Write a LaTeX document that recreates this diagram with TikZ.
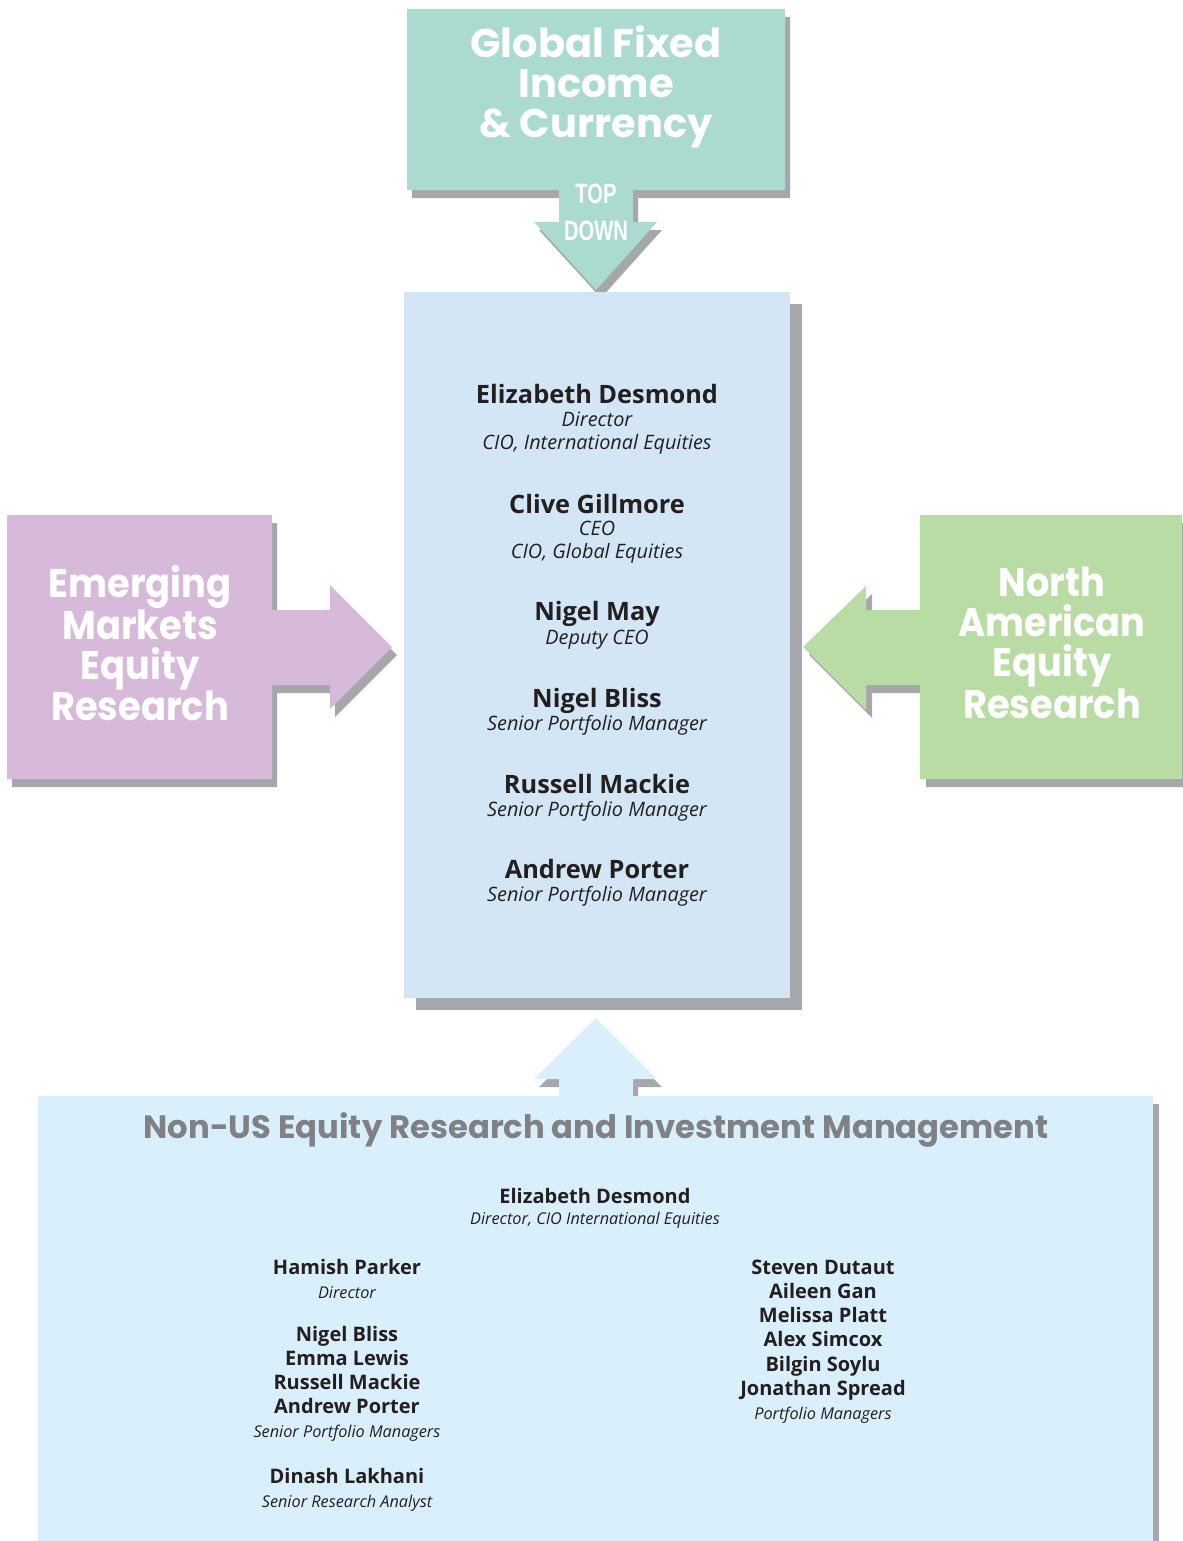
\documentclass[tikz,border=0pt]{standalone}
\usepackage{fontspec}
\setmainfont{Open Sans}
\newfontfamily\geofont{Poppins}
\newfontfamily\geonarrow[FakeStretch=0.92]{Poppins}
\newfontfamily\narrowfont[FakeStretch=0.72]{Liberation Sans}
\definecolor{cteal}{HTML}{AADAD0}
\definecolor{cpurple}{HTML}{D7BAD9}
\definecolor{cgreen}{HTML}{B9DCA4}
\definecolor{ccenter}{HTML}{D3E6F5}
\definecolor{cbottom}{HTML}{DAEFFC}
\definecolor{cshadow}{HTML}{A6A7AB}
\definecolor{ctitle}{HTML}{808184}
\definecolor{ctext}{HTML}{231F20}
\newcommand\myTopShape{(407,9) -- (785,9) -- (785,190) -- (633,190) -- (633,222) -- (657,222) -- (596,290) -- (534,222) -- (559,222) -- (559,190) -- (407,190) -- cycle}
\newcommand\myLeftShape{(7,515) -- (272,515) -- (272,610) -- (330,610) -- (330,585) -- (392,647) -- (330,709) -- (330,685) -- (272,685) -- (272,779) -- (7,779) -- cycle}
\newcommand\myRightShape{(1182,515) -- (920,515) -- (920,610) -- (866,610) -- (866,586) -- (803,647) -- (866,710) -- (866,685) -- (920,685) -- (920,779) -- (1182,779) -- cycle}
\newcommand\myUpShape{(596,1018) -- (657,1079) -- (633,1079) -- (633,1100) -- (559,1100) -- (559,1079) -- (534,1079) -- cycle}
\begin{document}
\begin{tikzpicture}[x=0.75pt,y=-0.75pt,
  bigtitle/.style={font=\geofont\bfseries\fontsize{30}{30}\selectfont, text=white, align=center, inner sep=0pt},
  sidetitle/.style={font=\geonarrow\bfseries\fontsize{30}{30}\selectfont, text=white, align=center, inner sep=0pt},
  pname/.style={font=\bfseries\fontsize{19}{20}\selectfont, text=ctext, inner sep=0pt, anchor=base},
  prole/.style={font=\itshape\fontsize{14.9}{16}\selectfont, text=ctext, inner sep=0pt, anchor=base},
  bname/.style={font=\bfseries\fontsize{15}{16}\selectfont, text=ctext, inner sep=0pt, anchor=base},
  brole/.style={font=\itshape\fontsize{12.2}{13}\selectfont, text=ctext, inner sep=0pt, anchor=base},
  topdown/.style={font=\narrowfont\bfseries\fontsize{21}{21}\selectfont, text=white, inner sep=0pt, anchor=base}]
\useasboundingbox (0,0) rectangle (1182,1541);
% shadows
\fill[cshadow, shift={(5,8)}] \myTopShape;
\fill[cshadow, shift={(5,8)}] \myLeftShape;
\fill[cshadow, shift={(6,8)}] \myRightShape;
\fill[cshadow] (416,304) rectangle (802,1010);
\fill[cshadow, shift={(5,8)}] \myUpShape;
\fill[cshadow] (44,1104) rectangle (1159,1541);
% shapes
\fill[cteal] \myTopShape;
\fill[cpurple] \myLeftShape;
\fill[cgreen] \myRightShape;
\fill[ccenter] (404,292) rectangle (790,998);
\fill[cbottom] \myUpShape;
\fill[cbottom] (38,1096) rectangle (1153,1541);
% titles
\node[bigtitle] (gfi) at (596,87) {Global Fixed\\Income\\\& Currency};
\node[topdown] (top) at (596,204) {TOP};
\node[topdown] (down) at (596,240) {DOWN};
\node[sidetitle] (emer) at (140,643) {Emerging\\Markets\\Equity\\Research};
\node[sidetitle] (nam) at (1052,643) {North\\American\\Equity\\Research};
\node[font=\geofont\bfseries\fontsize{24.2}{26}\selectfont, text=ctitle, inner sep=0pt, anchor=base] (nonus) at (596,1138) {Non-US Equity Research and Investment Management};
% centre box
\node[pname] (c1) at (597,403) {Elizabeth Desmond};
\node[prole] (c1a) at (597,426) {Director};
\node[prole] (c1b) at (597,449) {CIO, International Equities};
\node[pname] (c2) at (597,513) {Clive Gillmore};
\node[prole] (c2a) at (597,535) {CEO};
\node[prole] (c2b) at (597,558) {CIO, Global Equities};
\node[pname] (c3) at (597,620) {Nigel May};
\node[prole] (c3a) at (597,644) {Deputy CEO};
\node[pname] (c4) at (597,707) {Nigel Bliss};
\node[prole] (c4a) at (597,730) {Senior Portfolio Manager};
\node[pname] (c5) at (597,793) {Russell Mackie};
\node[prole] (c5a) at (597,816) {Senior Portfolio Manager};
\node[pname] (c6) at (597,878) {Andrew Porter};
\node[prole] (c6a) at (597,901) {Senior Portfolio Manager};
% bottom box
\node[bname] (b0) at (595,1203) {Elizabeth Desmond};
\node[brole] (b0a) at (595,1224) {Director, CIO International Equities};
\node[bname] (l1) at (347,1274) {Hamish Parker};
\node[brole] (l1a) at (347,1298) {Director};
\node[bname] (l2) at (347,1341) {Nigel Bliss};
\node[bname] (l3) at (347,1365) {Emma Lewis};
\node[bname] (l4) at (347,1389) {Russell Mackie};
\node[bname] (l5) at (347,1413) {Andrew Porter};
\node[brole] (l5a) at (347,1437) {Senior Portfolio Managers};
\node[bname] (l6) at (347,1483) {Dinash Lakhani};
\node[brole] (l6a) at (347,1507) {Senior Research Analyst};
\node[bname] (r1) at (823,1274) {Steven Dutaut};
\node[bname] (r2) at (823,1298) {Aileen Gan};
\node[bname] (r3) at (823,1322) {Melissa Platt};
\node[bname] (r4) at (823,1346) {Alex Simcox};
\node[bname] (r5) at (823,1371) {Bilgin Soylu};
\node[bname] (r6) at (823,1395) {Jonathan Spread};
\node[brole] (r6a) at (823,1419) {Portfolio Managers};
\end{tikzpicture}
\end{document}
